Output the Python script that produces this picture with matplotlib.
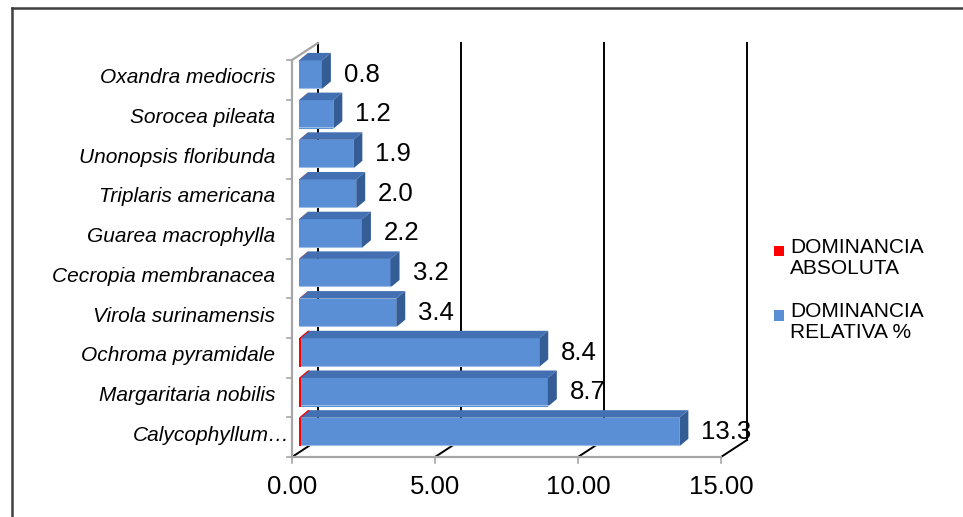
import numpy as np
import matplotlib
matplotlib.use("Agg")
import matplotlib.pyplot as plt
from matplotlib.patches import Rectangle, Polygon, Patch
from matplotlib.lines import Line2D
from matplotlib.legend_handler import HandlerPatch

plt.rcParams['font.family'] = ['Liberation Sans', 'DejaVu Sans']

especies = ["Oxandra mediocris", "Sorocea pileata", "Unonopsis floribunda",
            "Triplaris americana", "Guarea macrophylla", "Cecropia membranacea",
            "Virola surinamensis", "Ochroma pyramidale", "Margaritaria nobilis",
            "Calycophyllum\u2026"]
dom_relativa = [0.8, 1.2, 1.9, 2.0, 2.2, 3.2, 3.4, 8.4, 8.7, 13.3]
dom_absoluta = [0.005, 0.007, 0.01, 0.01, 0.01, 0.015, 0.015, 0.06, 0.06, 0.07]
xticks = [0, 5, 10, 15]

W, H = 963, 517
fig = plt.figure(figsize=(W / 100, H / 100), dpi=100)
ax = fig.add_axes([0, 0, 1, 1])
ax.axis('off')

# scale: front plane, 28.6 px per unit in x, 39.7 px per category in y
sx, sy = 28.6, 39.7
x0px, y0px = 292, 457
ax.set_xlim(-x0px / sx, (W - x0px) / sx)
ax.set_ylim(-(H - y0px) / sy, y0px / sy)

n = len(especies)
Dx, Dy = 26 / sx, 17 / sy          # full depth of the floor/walls
fx = 7 / sx                        # front face of bars sits a bit behind
ox, oy = 9 / sx, 7.5 / sy          # bar depth
bh = 0.72
grid_c = 'black'
wall_c = '#A6A6A6'

# back wall gridlines and floor diagonals
for t in xticks:
    ax.plot([t + Dx, t + Dx], [Dy, n + Dy], color=grid_c, lw=1.4, zorder=1)
    ax.plot([t, t + Dx], [0, Dy], color=grid_c, lw=1.4, zorder=1)

# left wall and floor front edge
ax.plot([0, 0], [0, n], color=wall_c, lw=1.6, zorder=2)
ax.plot([0, Dx], [n, n + Dy], color=wall_c, lw=1.6, zorder=2)
ax.plot([0, xticks[-1]], [0, 0], color=wall_c, lw=1.6, zorder=2)
for k in range(n + 1):
    ax.plot([-5 / sx, 0], [k, k], color=wall_c, lw=1.2, zorder=2)
for t in xticks:
    ax.plot([t, t], [0, -6 / sy], color=wall_c, lw=1.2, zorder=2)
    ax.text(t, -30 / sy, "%.2f" % t, ha='center', va='center', fontsize=18.5)

front_c, top_c, side_c = '#5A8FD5', '#4270B2', '#355D95'

for k in range(n):
    i = n - 1 - k
    v = dom_relativa[k]
    x0 = fx
    y0 = i + 0.27
    ax.add_patch(Rectangle((x0, y0), v, bh, facecolor=front_c, edgecolor='none', zorder=3))
    ax.add_patch(Polygon([(x0, y0 + bh), (x0 + v, y0 + bh), (x0 + v + ox, y0 + bh + oy),
                          (x0 + ox, y0 + bh + oy)], closed=True, facecolor=top_c,
                         edgecolor='none', zorder=3))
    ax.add_patch(Polygon([(x0 + v, y0), (x0 + v + ox, y0 + oy), (x0 + v + ox, y0 + bh + oy),
                          (x0 + v, y0 + bh)], closed=True, facecolor=side_c,
                         edgecolor='none', zorder=3))
    # thin highlight along the bottom of the front face
    ax.plot([x0, x0 + v], [y0 + 1.2 / sy, y0 + 1.2 / sy], color='#9DBDE8', lw=0.8, zorder=3)

    # absolute dominance: a sliver on the left edge of each bar
    a = dom_absoluta[k]
    ax.add_patch(Rectangle((x0, y0), a, bh, facecolor='#FF0000', edgecolor='none', zorder=4))
    ax.add_patch(Polygon([(x0, y0 + bh), (x0 + a, y0 + bh),
                          (x0 + a + ox, y0 + bh + oy), (x0 + ox, y0 + bh + oy)],
                         closed=True, facecolor='#FF0000', edgecolor='none', zorder=4))

    ax.text(x0 + v + ox + 13 / sx, y0 + bh / 2, "%.1f" % v, ha='left', va='center',
            fontsize=18.5, zorder=5)

    if especies[k].endswith("\u2026"):
        ax.text(-159 / sx, i + 0.55, especies[k], ha='left', va='center',
                fontsize=15, style='italic')
    else:
        ax.text(-17 / sx, i + 0.55, especies[k], ha='right', va='center',
                fontsize=15, style='italic')


def square_top(legend, orig_handle, xdescent, ydescent, width, height, fontsize):
    # legend square sitting level with the first line of a two-line label
    s = 0.5 * fontsize
    return Rectangle((-xdescent, -ydescent + height - s - 0.12 * fontsize), s, s)


handles = [Patch(facecolor='#FF0000'), Patch(facecolor=front_c)]
labels = ["DOMINANCIA\nABSOLUTA", "DOMINANCIA\nRELATIVA %"]
leg = fig.legend(handles, labels, loc='center left', bbox_to_anchor=(755 / W, 1 - 290 / H),
                 frameon=False, fontsize=15, handlelength=0.5, handleheight=1.9,
                 handletextpad=0.3, labelspacing=1.2,
                 handler_map={Patch: HandlerPatch(patch_func=square_top)})
for t in leg.get_texts():
    t.set_linespacing(1.12)

# chart area border
fig.add_artist(Line2D([12 / W, 12 / W], [0, 1 - 8 / H], color='#404040', lw=1.8))
fig.add_artist(Line2D([12 / W, 1], [1 - 8 / H, 1 - 8 / H], color='#404040', lw=1.8))

fig.savefig("out.png", dpi=100)
